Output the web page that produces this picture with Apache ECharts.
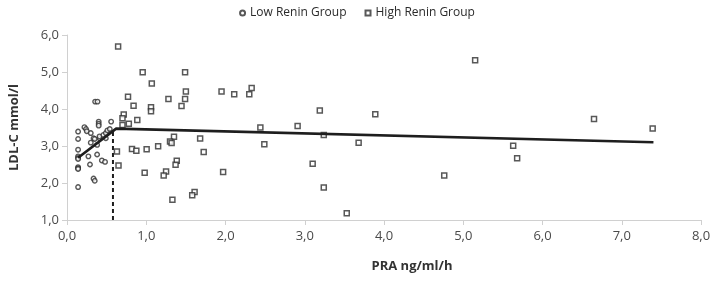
<!DOCTYPE html>
<html>
<head>
<meta charset="utf-8">
<script src="https://cdn.jsdelivr.net/npm/echarts@6/dist/echarts.min.js"></script>
<style>
  html, body { margin: 0; padding: 0; background: #fff; }
  #chart { width: 714px; height: 282px; }
</style>
</head>
<body>
<div id="chart"></div>
<script>
// PRA (ng/ml/h) vs LDL-C (mmol/l)
const lowRenin = [
  [0.14, 3.39], [0.14, 3.19], [0.14, 2.90], [0.14, 2.72], [0.14, 2.68], [0.14, 2.65],
  [0.14, 2.43], [0.14, 2.40], [0.14, 2.38], [0.14, 1.89],
  [0.22, 3.51], [0.24, 3.46], [0.25, 3.40],
  [0.27, 2.72], [0.29, 2.50], [0.30, 3.09], [0.30, 3.35], [0.335, 3.21], [0.35, 3.19],
  [0.335, 2.12], [0.35, 2.06],
  [0.355, 4.20], [0.385, 4.20],
  [0.38, 2.77], [0.38, 3.03],
  [0.40, 3.66], [0.40, 3.60], [0.40, 3.55],
  [0.41, 3.21], [0.41, 3.26],
  [0.44, 2.61], [0.48, 2.57],
  [0.46, 3.30], [0.49, 3.35], [0.51, 3.42], [0.54, 3.46], [0.49, 3.21],
  [0.557, 3.66]
];

const highRenin = [
  [0.645, 5.69], [0.955, 4.99], [1.07, 4.69], [0.77, 4.33], [0.84, 4.09], [0.716, 3.85],
  [0.70, 3.75], [0.70, 3.57], [0.78, 3.60], [0.887, 3.70], [1.06, 4.05], [1.06, 3.94],
  [1.28, 4.27], [1.445, 4.08], [1.49, 4.99], [1.50, 4.47], [1.49, 4.27], [1.95, 4.47],
  [2.11, 4.40], [2.30, 4.40], [2.33, 4.57], [2.44, 3.50], [2.91, 3.54], [3.19, 3.96],
  [3.24, 3.30], [1.35, 3.25], [1.68, 3.20], [5.15, 5.32], [3.89, 3.86], [6.65, 3.73],
  [7.39, 3.47], [3.68, 3.09], [5.63, 3.01], [5.68, 2.67], [4.76, 2.20], [2.49, 3.05],
  [1.97, 2.30], [3.10, 2.52], [3.24, 1.88], [3.53, 1.18], [1.30, 3.12], [1.32, 3.08],
  [0.82, 2.92], [0.875, 2.87], [1.005, 2.91], [1.15, 2.99], [1.725, 2.84], [1.385, 2.60],
  [1.37, 2.49], [0.98, 2.28], [1.25, 2.31], [1.22, 2.20], [1.33, 1.55], [1.61, 1.76],
  [1.58, 1.67], [0.63, 2.85], [0.65, 2.47]
];

// segmented regression fit and the breakpoint marker
const fitLine = [[0.14, 2.68], [0.62, 3.47], [7.40, 3.10]];
const breakLine = [[0.58, 1.0], [0.58, 3.44]];

const comma = v => v.toFixed(1).replace(".", ",");
const FONT = "'Open Sans', 'Liberation Sans', sans-serif";

const chart = echarts.init(document.getElementById("chart"), null, { renderer: "canvas" });

chart.setOption({
  animation: false,
  backgroundColor: "#fff",
  textStyle: { fontFamily: FONT },
  legend: {
    top: 2, left: "center",
    itemWidth: 5, itemHeight: 5, itemGap: 18,
    textStyle: { color: "#2a2a2a", fontSize: 12, fontFamily: FONT },
    data: ["Low Renin Group", "High Renin Group"],
  },
  grid: { left: 64, right: 13, top: 35, bottom: 62 },
  xAxis: {
    type: "value", min: 0, max: 8, interval: 1,
    name: "PRA ng/ml/h", nameLocation: "middle", nameGap: 40,
    nameTextStyle: { color: "#333", fontSize: 13, fontWeight: "bold", padding: [0, 0, 0, 56] },
    axisLine: { show: true, lineStyle: { color: "#d0d0d0", width: 1 } },
    axisTick: { show: true, length: 5, lineStyle: { color: "#d0d0d0" } },
    axisLabel: { color: "#4a4a4a", fontSize: 13, margin: 10, formatter: comma },
    splitLine: { show: false },
  },
  yAxis: {
    type: "value", min: 1, max: 6, interval: 1,
    name: "LDL-C mmol/l", nameLocation: "middle", nameGap: 46, nameRotate: 90,
    nameTextStyle: { color: "#333", fontSize: 13, fontWeight: "bold" },
    axisLine: { show: true, lineStyle: { color: "#d0d0d0", width: 1 } },
    axisTick: { show: true, length: 5, lineStyle: { color: "#d0d0d0" } },
    axisLabel: { color: "#4a4a4a", fontSize: 13, margin: 8, formatter: comma },
    splitLine: { show: false },
  },
  series: [
    {
      name: "Low Renin Group", type: "scatter", data: lowRenin,
      symbol: "circle", symbolSize: 4.5,
      itemStyle: { color: "#fff", borderColor: "#2e2e2e", borderWidth: 1.4 },
      z: 3,
    },
    {
      name: "High Renin Group", type: "scatter", data: highRenin,
      symbol: "rect", symbolSize: 5,
      itemStyle: { color: "#fff", borderColor: "#2e2e2e", borderWidth: 1.5 },
      z: 3,
    },
    {
      type: "line", data: fitLine, symbol: "none", silent: true,
      lineStyle: { color: "#1e1e1e", width: 2.6 },
      z: 4,
    },
    {
      type: "line", data: breakLine, symbol: "none", silent: true,
      lineStyle: { color: "#1e1e1e", width: 2, type: [4, 3] },
      z: 4,
    },
  ],
});
</script>
</body>
</html>
